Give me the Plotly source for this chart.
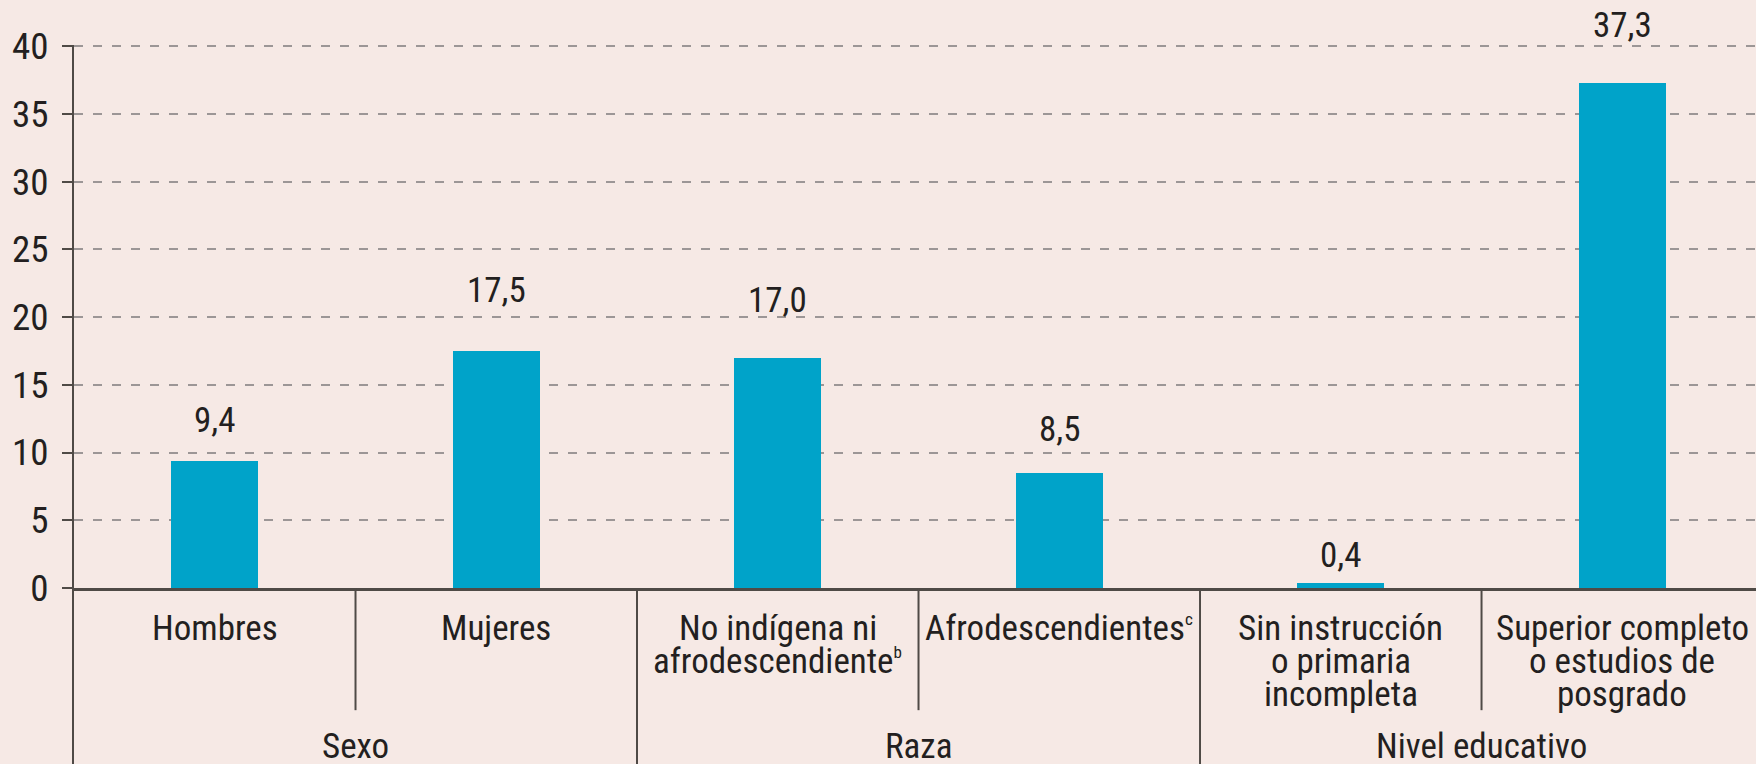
import plotly.graph_objects as go

# ---- data ----
categories = ["Hombres", "Mujeres", "No indígena ni afrodescendiente", "Afrodescendientes",
              "Sin instrucción o primaria incompleta", "Superior completo o estudios de posgrado"]
category_lines = [
    ["Hombres"],
    ["Mujeres"],
    ["No indígena ni", "afrodescendiente<sup><span style='font-size:17px'>b</span></sup>"],
    ["Afrodescendientes<sup><span style='font-size:17px'>c</span></sup>"],
    ["Sin instrucción", "o primaria", "incompleta"],
    ["Superior completo", "o estudios de", "posgrado"],
]
values = [9.4, 17.5, 17.0, 8.5, 0.4, 37.3]
value_labels = ["9,4", "17,5", "17,0", "8,5", "0,4", "37,3"]
groups = ["Sexo", "Raza", "Nivel educativo"]
group_centers = [0.5, 2.5, 4.5]
y_ticks = [0, 5, 10, 15, 20, 25, 30, 35, 40]

# ---- style ----
FONT = "Roboto Condensed, DejaVu Sans Condensed, Liberation Sans Narrow, Arial Narrow, Roboto, sans-serif"
BG = "#F6E9E5"
BAR = "#00A3C9"
TXT = "#231F20"
AXIS = "#4F4A46"
GRID = "#9C9696"
label_shift = [40, 60, 57, 43, 27, 57]   # px from bar top to label centre

x = list(range(len(categories)))

fig = go.Figure()
fig.add_trace(go.Bar(x=x, y=values, width=0.31, marker=dict(color=BAR, line=dict(width=0)),
                     hoverinfo="skip", showlegend=False))

annotations = []
for xi, v, lab, sh in zip(x, values, value_labels, label_shift):
    annotations.append(dict(x=xi, y=v, xref="x", yref="y", text=lab, showarrow=False,
                            yanchor="middle", yshift=sh, font=dict(family=FONT, size=35, color=TXT)))

line_shift = [-40, -73, -106]
for xi, lines in zip(x, category_lines):
    for li, t in enumerate(lines):
        annotations.append(dict(x=xi, y=0, xref="x", yref="y", text=t, showarrow=False,
                                yanchor="middle", yshift=line_shift[li],
                                font=dict(family=FONT, size=35, color=TXT)))

for gc, g in zip(group_centers, groups):
    annotations.append(dict(x=gc, y=0, xref="x", yref="y", text=g, showarrow=False,
                            yanchor="middle", yshift=-158,
                            font=dict(family=FONT, size=35, color=TXT)))

shapes = []
shapes.append(dict(type="line", xref="paper", yref="paper", x0=-0.0006, x1=-0.0006, y0=0, y1=-0.45,
                   line=dict(color=AXIS, width=2)))
sep_short = [0.5, 2.5, 4.5]
sep_long = [1.5, 3.5]
for s in sep_short:
    shapes.append(dict(type="line", xref="x", yref="paper", x0=s, x1=s, y0=0, y1=-0.225,
                       line=dict(color=AXIS, width=2)))
for s in sep_long:
    shapes.append(dict(type="line", xref="x", yref="paper", x0=s, x1=s, y0=0, y1=-0.45,
                       line=dict(color=AXIS, width=2)))

fig.update_layout(
    width=1756, height=764,
    margin=dict(l=74, r=0, t=45, b=176),
    paper_bgcolor=BG, plot_bgcolor=BG,
    font=dict(family=FONT, size=34, color=TXT),
    annotations=annotations, shapes=shapes,
    bargap=0,
)
fig.update_xaxes(range=[-0.5, 5.475], showticklabels=False, showgrid=False, zeroline=False,
                 showline=True, linecolor=AXIS, linewidth=3, ticks="")
fig.update_yaxes(range=[0, 40.08], tickvals=y_ticks, ticktext=[str(t) for t in y_ticks],
                 showgrid=True, gridcolor=GRID, gridwidth=2, griddash="9px,10px",
                 zeroline=False, showline=True, linecolor=AXIS, linewidth=2,
                 ticks="outside", ticklen=10, tickwidth=2, tickcolor=AXIS,
                 ticklabelstandoff=6, tickfont=dict(family=FONT, size=37, color=TXT))

fig.write_html("out.html", config={"displayModeBar": False},
               post_script="document.body.style.margin='0';")
